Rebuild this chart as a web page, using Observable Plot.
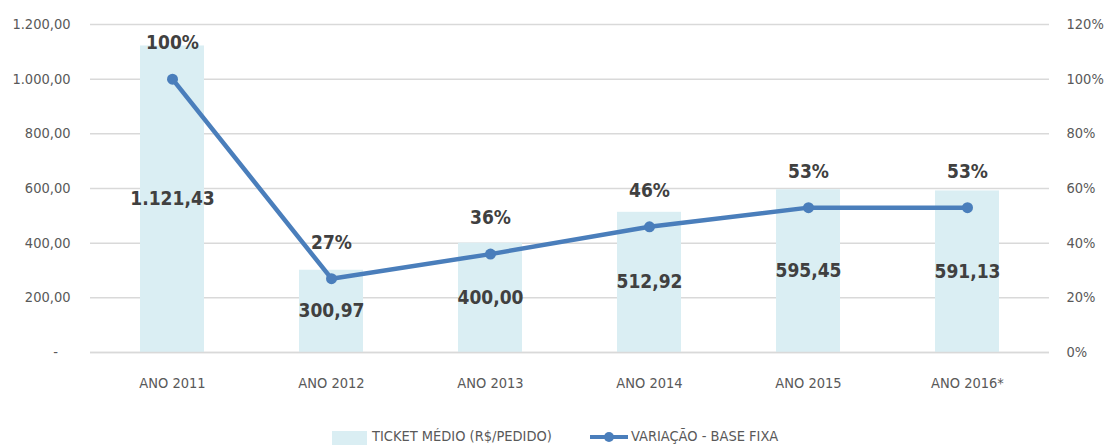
<!DOCTYPE html>
<html>
<head>
<meta charset="utf-8">
<script src="https://cdn.jsdelivr.net/npm/d3@7"></script>
<script src="https://cdn.jsdelivr.net/npm/@observablehq/plot@0.6"></script>
<style>
  html, body { margin: 0; padding: 0; background: #fff; }
  #chart { position: relative; width: 1106px; }
  .f { font-family: "DejaVu Sans Condensed", "DejaVu Sans", sans-serif; font-stretch: condensed; }
  #legend { position: relative; width: 1106px; height: 33px; font-size: 14.5px; color: #595959; }
  #legend .sw { position: absolute; left: 332px; top: 16px; width: 35px; height: 14px; background: #daeef3; }
  #legend .t1 { position: absolute; left: 372px; top: 13px; }
  #legend .ln { position: absolute; left: 590px; top: 20px; width: 38px; height: 4px; background: #4a7ebb; }
  #legend .dt { position: absolute; left: 604px; top: 17px; width: 10px; height: 10px; border-radius: 50%; background: #4a7ebb; }
  #legend .t2 { position: absolute; left: 631px; top: 13px; }
</style>
</head>
<body>
<div id="chart" class="f"></div>
<script>
const anos = ["ANO 2011", "ANO 2012", "ANO 2013", "ANO 2014", "ANO 2015", "ANO 2016*"];
const ticket = [1121.43, 300.97, 400.00, 512.92, 595.45, 591.13];
const variacao = [1.00, 0.27, 0.36, 0.46, 0.53, 0.53];
const leftTicks = [0, 200, 400, 600, 800, 1000, 1200];
const rightTicks = [0, 0.2, 0.4, 0.6, 0.8, 1.0, 1.2];

const loc = d3.formatLocale({decimal: ",", thousands: ".", grouping: [3], currency: ["R$", ""]});
const fmt = loc.format(",.2f");
const pctFmt = d => Math.round(d * 100) + "%";

const data = anos.map((a, i) => ({ano: a, ticket: ticket[i], pct: variacao[i], pctY: variacao[i] * 1000}));

const font = '"DejaVu Sans Condensed", "DejaVu Sans", sans-serif';

const plot = Plot.plot({
  width: 1106,
  height: 415,
  marginLeft: 90,
  marginRight: 57,
  marginTop: 24,
  marginBottom: 63,
  style: {fontFamily: font, fontSize: "14.5px", color: "#595959", background: "#fff"},
  x: {domain: anos, paddingInner: 0.6, paddingOuter: 0.3, label: null},
  y: {domain: [0, 1200], label: null},
  marks: [
    Plot.ruleY(leftTicks, {stroke: "#d9d9d9", strokeWidth: 1.5}),
    Plot.axisY(leftTicks, {anchor: "left", tickSize: 0, tickPadding: 20, label: null,
      tickFormat: d => d === 0 ? "-\u00a0\u00a0\u00a0" : fmt(d), fill: "#595959", fontSize: 14.5}),
    Plot.axisY(rightTicks.map(d => d * 1000), {anchor: "right", tickSize: 0, tickPadding: 17, label: null,
      tickFormat: d => pctFmt(d / 1000), fill: "#595959", fontSize: 14.5}),
    Plot.axisX({anchor: "bottom", tickSize: 0, tickPadding: 25, label: null, fill: "#595959", fontSize: 14.5}),
    Plot.barY(data, {x: "ano", y: "ticket", fill: "#daeef3"}),
    Plot.ruleY([0], {stroke: "#d9d9d9", strokeWidth: 1.5}),
    Plot.line(data, {x: "ano", y: "pctY", stroke: "#4a7ebb", strokeWidth: 4.5}),
    Plot.dot(data, {x: "ano", y: "pctY", r: 5.5, fill: "#4a7ebb", stroke: "none"}),
    Plot.text(data, {x: "ano", y: "pctY", text: d => pctFmt(d.pct), dy: -36,
      fontSize: 19, fontWeight: "bold", fill: "#404040"}),
    Plot.text(data, {x: "ano", y: d => d.ticket / 2, text: d => fmt(d.ticket),
      fontSize: 19, fontWeight: "bold", fill: "#404040"})
  ]
});
document.getElementById("chart").appendChild(plot);

const legend = document.createElement("div");
legend.id = "legend";
legend.className = "f";
legend.innerHTML = '<div class="sw"></div><div class="t1">TICKET MÉDIO (R$/PEDIDO)</div>' +
  '<div class="ln"></div><div class="dt"></div><div class="t2">VARIAÇÃO - BASE FIXA</div>';
document.getElementById("chart").appendChild(legend);
</script>
</body>
</html>
